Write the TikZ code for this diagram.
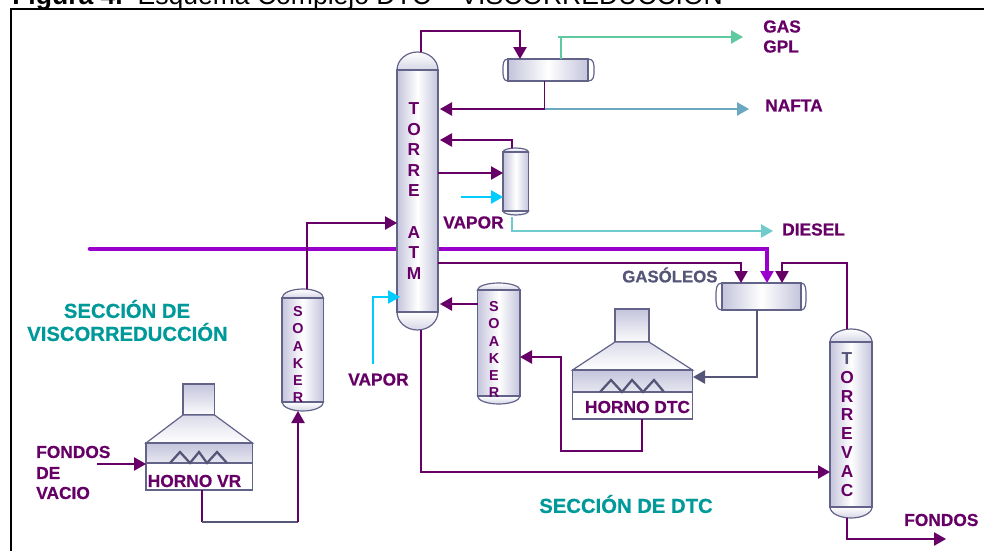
\documentclass[tikz,border=0pt]{standalone}
\usepackage{fontspec}
\setmainfont{Liberation Sans}
\newfontfamily\fatf[FakeBold=0.6]{Liberation Sans Bold}
\usetikzlibrary{arrows.meta,calc}
\definecolor{tpurple}{HTML}{660066}
\definecolor{thickp}{HTML}{9900CC}
\definecolor{tealt}{HTML}{009999}
\definecolor{vedge}{HTML}{C4C4DC}
\definecolor{vstroke}{HTML}{63638A}
\definecolor{gasg}{HTML}{5FC9A0}
\definecolor{naftab}{HTML}{6AA8C0}
\definecolor{dieselc}{HTML}{70CCCC}
\definecolor{vapc}{HTML}{00CCFF}
\definecolor{greyl}{HTML}{555577}
\tikzset{
  tip/.style={-{Triangle[length=9pt,width=10pt]}},
  pline/.style={draw=tpurple,line width=1.1pt,tip},
  pplain/.style={draw=tpurple,line width=1.1pt},
  bodyv/.style={left color=vedge,right color=vedge,middle color=white,draw=vstroke,line width=.9pt},
  capv/.style={top color=white,bottom color=vedge!70,draw=vstroke,line width=.9pt},
  shell/.style={inner sep=0pt,outer sep=0pt,draw=none},
  lab/.style={inner sep=0pt,text=tpurple,font=\fontsize{13}{15}\fatf\selectfont},
  sect/.style={inner sep=0pt,text=tealt,font=\fontsize{15.2}{17}\fatf\selectfont,align=center},
  stack/.style 2 args={inner sep=0pt,text=tpurple,align=center,font=\fontsize{#1}{#2}\bfseries\selectfont},
  frameline/.style={draw=black,line width=1.8pt}
}
% name, x1, x2, ytop, yline1, yline2, ybot
\newcommand{\vvessel}[7]{%
  \pgfmathsetlengthmacro\wv{(#3-#2)*.75pt}%
  \pgfmathsetlengthmacro\hv{(#7-#4)*.75pt}%
  \pgfmathsetmacro\xm{(#2+#3)/2}%
  \pgfmathsetmacro\kx{(#3-#2)*.275}%
  \pgfmathsetmacro\kt{(#5-#4)*.55}%
  \pgfmathsetmacro\kb{(#7-#6)*.55}%
  \node[shell,minimum width=\wv,minimum height=\hv] (#1) at (\xm,{(#4+#7)/2}) {};
  \path[capv] (#2,#5) .. controls (#2,#5-\kt) and (\xm-\kx,#4) .. (\xm,#4)
     .. controls (\xm+\kx,#4) and (#3,#5-\kt) .. (#3,#5) -- cycle;
  \path[capv] (#2,#6) .. controls (#2,#6+\kb) and (\xm-\kx,#7) .. (\xm,#7)
     .. controls (\xm+\kx,#7) and (#3,#6+\kb) .. (#3,#6) -- cycle;
  \path[bodyv] (#2,#5) rectangle (#3,#6);
}
% name, xleft, x1, x2, xright, ytop, ybot
\newcommand{\hvessel}[7]{%
  \pgfmathsetlengthmacro\wv{(#5-#2)*.75pt}%
  \pgfmathsetlengthmacro\hv{(#7-#6)*.75pt}%
  \pgfmathsetmacro\ym{(#6+#7)/2}%
  \pgfmathsetmacro\ky{(#7-#6)*.275}%
  \node[shell,minimum width=\wv,minimum height=\hv] (#1) at ({(#2+#5)/2},\ym) {};
  \path[draw=vstroke,line width=.9pt,fill=white] (#3,#6) .. controls (#2,#6) and (#2,\ym-\ky) .. (#2,\ym)
     .. controls (#2,\ym+\ky) and (#2,#7) .. (#3,#7) -- cycle;
  \path[draw=vstroke,line width=.9pt,fill=white] (#4,#6) .. controls (#5,#6) and (#5,\ym-\ky) .. (#5,\ym)
     .. controls (#5,\ym+\ky) and (#5,#7) .. (#4,#7) -- cycle;
  \path[bodyv] (#3,#6) rectangle (#4,#7);
}
% name, x1, x2, cx1, cx2, ychimtop, ychimbot, ybox, ymid, ybot
\newcommand{\horno}[9]{%
  \def\hname{#1}\def\hxa{#2}\def\hxb{#3}\def\hca{#4}\def\hcb{#5}\def\hya{#6}\def\hyb{#7}\def\hyc{#8}\def\hyd{#9}\hornofin}
\newcommand{\hornofin}[1]{%
  \pgfmathsetlengthmacro\wv{(\hxb-\hxa)*.75pt}%
  \pgfmathsetlengthmacro\hv{(#1-\hyc)*.75pt}%
  \path[draw=vstroke,line width=.9pt,top color=vedge,bottom color=white!95!vedge] (\hca,\hya) rectangle (\hcb,\hyb);
  \path[draw=vstroke,line width=.9pt,top color=vedge!60,bottom color=white] (\hca,\hyb) -- (\hcb,\hyb) -- (\hxb,\hyc) -- (\hxa,\hyc) -- cycle;
  \node[shell,draw=vstroke,line width=.9pt,fill=white,minimum width=\wv,minimum height=\hv] (\hname) at ({(\hxa+\hxb)/2},{(\hyc+#1)/2}) {};
  \path[draw=vstroke,line width=.9pt,top color=vedge,bottom color=vedge!40] (\hxa,\hyc) rectangle (\hxb,\hyd);
}
\begin{document}
\begin{tikzpicture}[x=.75pt,y=-.75pt]
\useasboundingbox (0,0) rectangle (984,550);
\clip (0,0) rectangle (984,550);
\node[anchor=base west,inner sep=0pt,font=\fontsize{19.9}{22}\selectfont] (title) at (12,4) {\textbf{Figura 4.}\ \ Esquema Complejo DTC – VISCORREDUCCIÓN};
\coordinate (fa) at (11,552); \coordinate (fb) at (11,9); \coordinate (fc) at (986,9);
\draw[frameline] (fa) -- (fb) -- (fc);
% thick feed line
\coordinate (ts) at (90,249); \coordinate (tb) at (767,249); \coordinate (te) at (767,283);
\draw[draw=thickp,line width=3.4pt,line cap=round] (ts) -- (tb) -- ($(te)+(0,-8)$);
\draw[draw=thickp,line width=1pt,tip] ($(te)+(0,-10)$) -- (te);
% equipment
\vvessel{torre}{397}{438}{52}{70}{312}{330}
\hvessel{cond}{503}{508}{588}{594}{59}{81}
\vvessel{strip}{503}{528.5}{148}{152}{211}{215}
\vvessel{soaka}{282}{323.5}{289}{298}{402}{411}
\vvessel{soakb}{477.5}{520}{283}{290}{396}{404}
\hvessel{gaso}{716}{722}{801}{806}{283}{310}
\vvessel{vac}{830}{872}{329}{342}{507}{518}
\horno{hvr}{146}{252.5}{183}{214.5}{384}{415}{443}{463}{490}
\horno{hdtc}{572.5}{692.5}{615}{649}{309}{342}{370}{392}{419}
\draw[greyl,line width=1.7pt] (170,463) -- (180,452) -- (190,463) -- (199,452) -- (207,463) -- (217,452) -- (227,463);
\draw[greyl,line width=1.7pt] (600,392) -- (611,380) -- (622,392) -- (632,380) -- (643,392) -- (654,380) -- (664,392);
% vessel texts
\node[stack={13}{15.4}] (ltorre) at (414,191) {T\\O\\R\\R\\E\\[15.4pt]A\\T\\M};
\node[stack={10.8}{12.8}] (lsoaka) at (298,354.5) {S\\O\\A\\K\\E\\R};
\node[stack={10.8}{12.8}] (lsoakb) at (494,349.5) {S\\O\\A\\K\\E\\R};
\node[stack={13}{14.1}] (lvac) at (847,424.5) {\textcolor{greyl}{T}\\O\\R\\R\\E\\V\\A\\C};
\node[lab] (lhvr) at (194.5,481) {HORNO VR};
\node[lab] (lhdtc) at (637.5,407) {HORNO DTC};
% connectors: overhead
\coordinate (o1) at (421,31); \coordinate (o2) at (520,31);
\draw[pline] (o1 |- torre.north) -- (o1) -- (o2) -- (o2 |- cond.north);
\coordinate (g1) at (561,37); \coordinate (g2) at (743,37);
\draw[draw=gasg,line width=1.1pt,tip] (g1 |- cond.north) -- (g1) -- (g2);
\draw[draw=gasg,line width=1.1pt] (558,37) -- (g1);
\coordinate (n1) at (544.6,109); \coordinate (n2) at (749,109); \coordinate (n3) at (440,109);
\draw[pline] (n1 |- cond.south) -- (n1) -- (n3);
\draw[draw=naftab,line width=1.3pt,tip] (n1) -- (n2);
% stripper
\coordinate (s1) at (512,140); \coordinate (s2) at (440,140);
\draw[pline] (s1 |- strip.north) -- (s1) -- (s2);
\coordinate (s3) at (438,173);
\draw[pline] (s3) -- (s3 -| strip.west);
\coordinate (s4) at (461,197); \coordinate (s5) at (503,197);
\draw[draw=vapc,line width=1.1pt,tip] (s4) -- (s5);
\coordinate (d0) at (512,217); \coordinate (d1) at (512,231); \coordinate (d2) at (773,231);
\draw[draw=dieselc,line width=1.1pt,tip] (d0) -- (d1) -- (d2);
% soaker 1 to tower
\coordinate (a1) at (307,223); \coordinate (a2) at (397,223);
\draw[pline] (a1 |- soaka.north) -- (a1) -- (a2);
% gasoleos feeds
\coordinate (b0) at (438,263); \coordinate (b1) at (741,263);
\draw[pline] (b0) -- (b1) -- (b1 |- gaso.north);
\coordinate (c1) at (847,263); \coordinate (c2) at (782,263);
\draw[pline] (c1 |- vac.north) -- (c1) -- (c2) -- (c2 |- gaso.north);
% gasoleos to horno DTC
\coordinate (e1) at (757,377);
\draw[draw=greyl,line width=1.2pt,tip] (e1 |- gaso.south) -- (e1) -- (693,377);
% horno DTC to soaker 2
\coordinate (f1) at (642,451); \coordinate (f2) at (561,451); \coordinate (f3) at (561,357);
\draw[pline] (f1 |- hdtc.south) -- (f1) -- (f2) -- (f3) -- (f3 -| soakb.east);
% soaker 2 to tower
\coordinate (h1) at (477.5,304); \coordinate (h2) at (440,304);
\draw[pline] (h1) -- (h2);
% vapor
\coordinate (v1) at (373,364); \coordinate (v2) at (373,297); \coordinate (v3) at (400,297);
\draw[draw=vapc,line width=1.1pt,tip] (v1) -- (v2) -- (v3);
% tower bottoms to vac
\coordinate (k1) at (421,472);
\draw[pline] (k1 |- torre.south) -- (k1) -- (k1 -| vac.west);
% vac bottoms
\coordinate (m1) at (847,539); \coordinate (m2) at (946,539);
\draw[pline] (m1 |- vac.south) -- (m1) -- (m2);
% VR
\coordinate (q0) at (97,464);
\draw[pline] (q0) -- (q0 -| hvr.west);
\coordinate (r1) at (202,522); \coordinate (r2) at (298,522);
\draw[pplain] (r1 |- hvr.south) -- (r1);
\draw[draw=greyl,line width=1.1pt] (r1) -- (r2);
\draw[pline] (r2) -- (r2 |- soaka.south);
% labels
\node[lab,anchor=west] (lgas) at (763,26.5) {GAS};
\node[lab,anchor=west] (lgpl) at (763,46.5) {GPL};
\node[lab,anchor=west] (lnafta) at (765,105.5) {NAFTA};
\node[lab,anchor=west] (ldiesel) at (782,229.5) {DIESEL};
\node[lab,anchor=west] (lvap1) at (443,222.5) {VAPOR};
\node[lab,anchor=west] (lvap2) at (348,379.5) {VAPOR};
\node[lab,anchor=west,text=greyl,font=\fontsize{12.6}{14}\fatf\selectfont] (lgas2) at (622,275) {GASÓLEOS};
\node[lab,anchor=west] (lfondos) at (904,520) {FONDOS};
\node[lab,anchor=west] (lf1) at (36,452) {FONDOS};
\node[lab,anchor=west] (lf2) at (36,473) {DE};
\node[lab,anchor=west] (lf3) at (36,493) {VACIO};
\node[sect] (ls1) at (127,309) {SECCIÓN DE};
\node[sect] (ls2) at (127.5,332) {VISCORREDUCCIÓN};
\node[sect] (ls3) at (626,504) {SECCIÓN DE DTC};
\end{tikzpicture}
\end{document}
